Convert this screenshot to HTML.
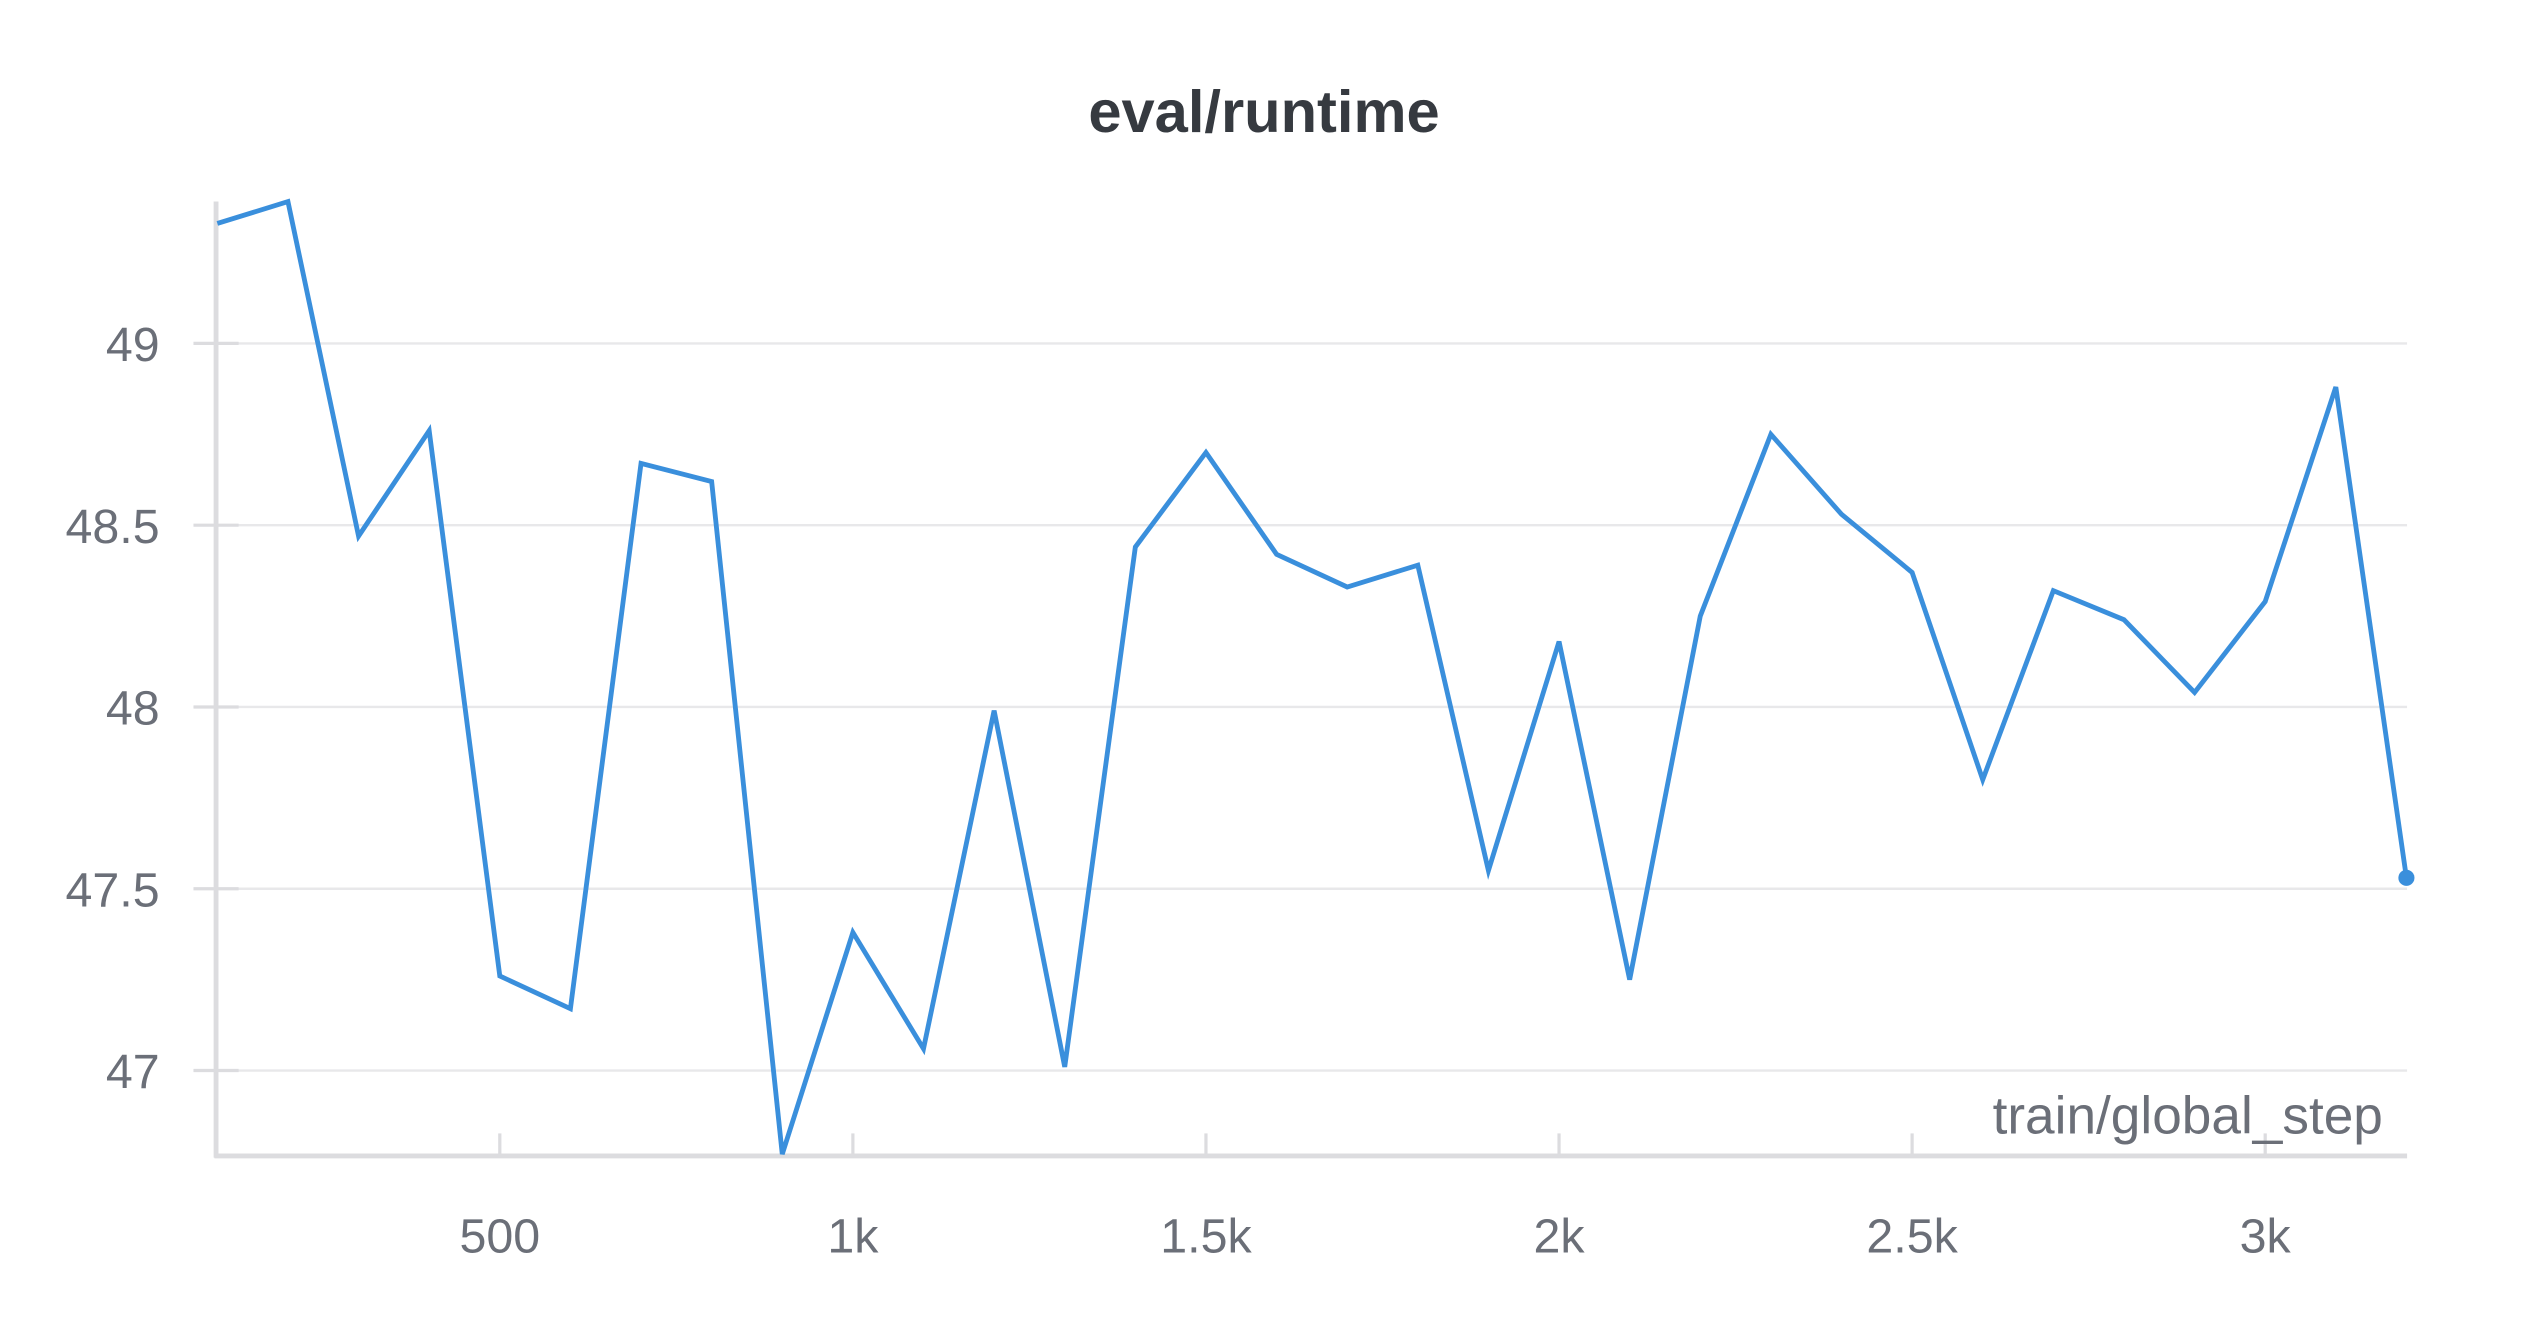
<!DOCTYPE html>
<html><head><meta charset="utf-8"><style>
html,body{margin:0;padding:0;background:#fff;}
svg{display:block;font-family:"Liberation Sans",sans-serif;}
</style></head><body>
<svg id="chart" width="2528" height="1328" viewBox="0 0 1568 823.7" xmlns="http://www.w3.org/2000/svg">
<text x="784" y="82" text-anchor="middle" font-size="37" font-weight="bold" fill="#363a40">eval/runtime</text>
<g id="grid"></g>
<g id="axes"></g>
<g id="series"></g>
<text x="1478" y="703" text-anchor="end" font-size="33" fill="#6b6f78">train/global_step</text>
</svg>
<script>
const steps = [100,200,300,400,500,600,700,800,900,1000,1100,1200,1300,1400,1500,1600,1700,1800,1900,2000,2100,2200,2300,2400,2500,2600,2700,2800,2900,3000,3100,3200];
const runtime = [49.33,49.39,48.47,48.76,47.26,47.17,48.67,48.62,46.77,47.38,47.06,47.99,47.01,48.44,48.70,48.42,48.33,48.39,47.55,48.18,47.25,48.25,48.75,48.53,48.37,47.80,48.32,48.24,48.04,48.29,48.88,47.53];
const yTicks = [47,47.5,48,48.5,49];
const yTickLabels = ["47","47.5","48","48.5","49"];
const xTicks = [500,1000,1500,2000,2500,3000];
const xTickLabels = ["500","1k","1.5k","2k","2.5k","3k"];

const NS="http://www.w3.org/2000/svg";
const xs = v => 91 + (v/500)*219;
const ys = v => 213 + (49 - v)*225.5;
function mk(tag, attrs, parent){const e=document.createElementNS(NS,tag);for(const k in attrs)e.setAttribute(k,attrs[k]);parent.appendChild(e);return e;}
const grid=document.getElementById('grid'), axes=document.getElementById('axes'), series=document.getElementById('series');

yTicks.forEach((t,i)=>{
  const g=mk('line',{x1:120,x2:1493,y1:ys(t),y2:ys(t),stroke:'#e8e8ea','stroke-width':1.5},grid);
  
  
  const tk=mk('line',{x1:120,x2:148,y1:ys(t),y2:ys(t),stroke:'#dcdcdf','stroke-width':2},axes);
  
  
  const tx=mk('text',{x:99,y:ys(t)+11,'text-anchor':'end','font-size':30,fill:'#6b6f78'},axes);
  tx.textContent=yTickLabels[i];
  
  
});
xTicks.forEach((t,i)=>{
  const tk=mk('line',{x1:xs(t),x2:xs(t),y1:703,y2:717,stroke:'#dcdcdf','stroke-width':2},axes);
  
  
  const tx=mk('text',{x:xs(t),y:777,'text-anchor':'middle','font-size':30,fill:'#6b6f78'},axes);
  tx.textContent=xTickLabels[i];
  
  
});
const ya=mk('line',{x1:134,x2:134,y1:125,y2:718,stroke:'#dcdcdf','stroke-width':3},axes);


const xa=mk('line',{x1:133,x2:1493,y1:717,y2:717,stroke:'#dcdcdf','stroke-width':3},axes);



const pts=steps.map((s,i)=>xs(s).toFixed(2)+','+ys(runtime[i]).toFixed(2)).join(' ');
const pl=mk('polyline',{points:pts,fill:'none',stroke:'#3a8fdc','stroke-width':3,'stroke-linejoin':'miter'},series);


const n=steps.length-1;
const dot=mk('circle',{cx:xs(steps[n]),cy:ys(runtime[n]),r:5,fill:'#3a8fdc'},series);


</script>
</body></html>
